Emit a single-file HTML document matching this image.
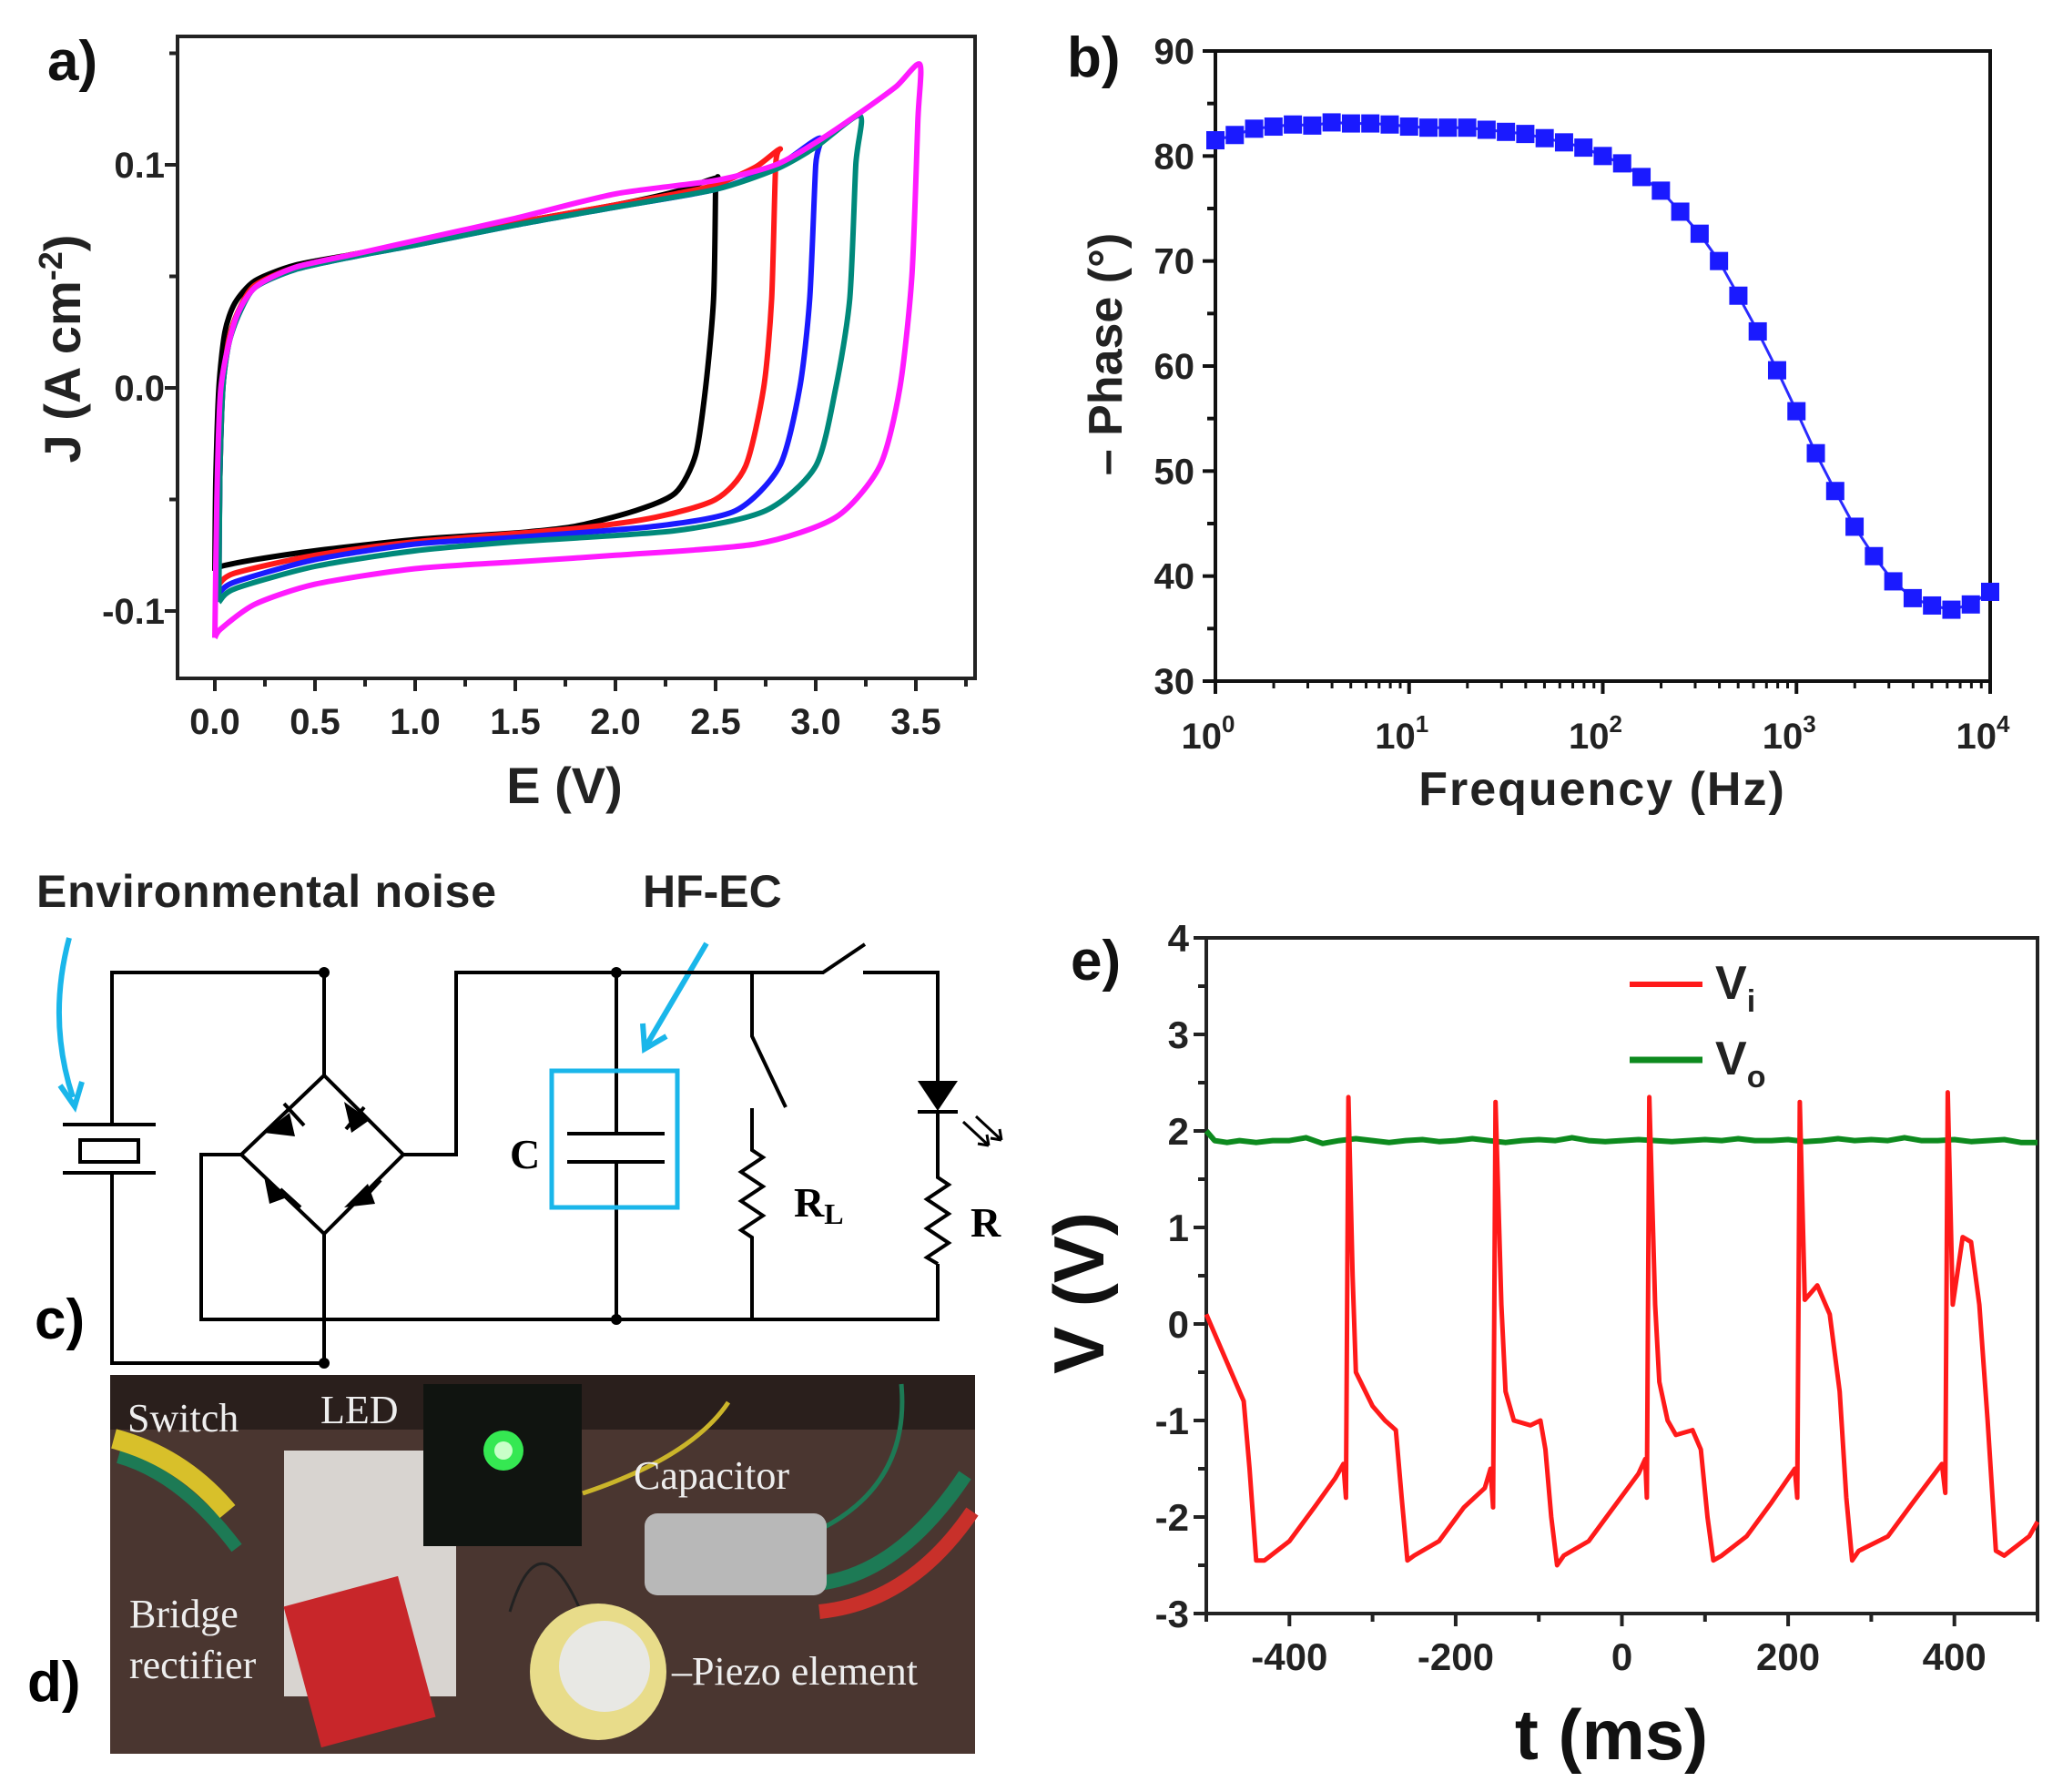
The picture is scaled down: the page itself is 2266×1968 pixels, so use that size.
<!DOCTYPE html>
<html><head><meta charset="utf-8"><style>
html,body{margin:0;padding:0;background:#fff;}
svg{display:block;font-family:"Liberation Sans",sans-serif;}
</style></head><body>
<svg id="fig" xmlns="http://www.w3.org/2000/svg" width="2266" height="1968" viewBox="0 0 2266 1968">
<rect x="0" y="0" width="2266" height="1968" fill="#fff"/>
<g id="pa"></g>
<g id="pb"></g>
<g id="pe"></g>

<g stroke="#000" stroke-width="4" fill="none">
  <text x="40" y="996" font-size="50" font-weight="bold" fill="#222" stroke="none" textLength="505">Environmental noise</text>
  <text x="706" y="996" font-size="50" font-weight="bold" fill="#222" stroke="none">HF-EC</text>
  <path d="M76 1030 Q52 1120 80 1205" stroke="#1ab6ea" stroke-width="6"/>
  <path d="M66 1192 L82 1215 L90 1188" stroke="#1ab6ea" stroke-width="6"/>
  <path d="M776 1036 L710 1148" stroke="#1ab6ea" stroke-width="6"/>
  <path d="M706 1124 L708 1152 L732 1138" stroke="#1ab6ea" stroke-width="6"/>
  <path d="M123 1235 L123 1068 L356 1068 L356 1181"/>
  <path d="M123 1288 L123 1497 L356 1497 L356 1355"/>
  <path d="M69 1235 L171 1235 M69 1288 L171 1288"/>
  <rect x="88" y="1252" width="64" height="24"/>
  <path d="M356 1181 L265 1268 L356 1355 L443 1268 Z"/>
  <g fill="#000" stroke="none">
    <polygon points="290,1244 318,1222 324,1248"/>
    <polygon points="378,1210 406,1230 386,1244"/>
    <polygon points="290,1292 318,1314 296,1322"/>
    <polygon points="378,1326 404,1300 412,1322"/>
  </g>
  <path d="M312 1212 L334 1236 M400 1216 L380 1240 M308 1306 L330 1326 M418 1296 L398 1318"/>
  <path d="M265 1268 L221 1268 L221 1449 L1030 1449 L1030 1388"/>
  <path d="M443 1268 L501 1268 L501 1068 L904 1068 L950 1037"/>
  <path d="M948 1068 L1030 1068 L1030 1187"/>
  <path d="M677 1068 L677 1245 M623 1245 L730 1245 M623 1276 L730 1276 M677 1276 L677 1449"/>
  <rect x="606" y="1176" width="138" height="150" stroke="#1ab6ea" stroke-width="5"/>
  <text x="560" y="1283" font-family="Liberation Serif,serif" font-size="46" font-weight="bold" fill="#000" stroke="none">C</text>
  <path d="M826 1068 L826 1138 L863 1216 M826 1217 L826 1263 L838 1271 L814 1287 L838 1303 L814 1319 L838 1335 L814 1351 L826 1359 L826 1449"/>
  <text x="872" y="1336" font-family="Liberation Serif,serif" font-size="46" font-weight="bold" fill="#000" stroke="none">R<tspan font-size="32" dy="8">L</tspan></text>
  <polygon points="1008,1187 1052,1187 1030,1220" fill="#000" stroke="none"/>
  <path d="M1008 1221 L1052 1221 M1030 1221 L1030 1293 L1042 1301 L1018 1317 L1042 1333 L1018 1349 L1042 1365 L1018 1381 L1030 1388"/>
  <path d="M1058 1232 L1086 1258 M1072 1226 L1100 1252 M1086 1258 l-12 -2 M1086 1258 l-2 -12 M1100 1252 l-12 -2 M1100 1252 l-2 -12" stroke-width="3"/>
  <text x="1066" y="1358" font-family="Liberation Serif,serif" font-size="46" font-weight="bold" fill="#000" stroke="none">R</text>
  <g fill="#000" stroke="none">
    <circle cx="356" cy="1068" r="6"/><circle cx="677" cy="1068" r="6"/><circle cx="677" cy="1449" r="6"/><circle cx="356" cy="1497" r="6"/>
  </g>
  <text x="38" y="1470" font-size="62" font-weight="bold" fill="#000" stroke="none">c)</text>
</g>

<g>
  <rect x="121" y="1510" width="950" height="416" fill="#4a3630"/>
  <rect x="121" y="1510" width="950" height="60" fill="#2a1f1c"/>
  <path d="M130 1600 Q200 1620 260 1700" stroke="#1d7a55" stroke-width="14" fill="none"/>
  <path d="M125 1580 Q200 1600 250 1660" stroke="#d8c02a" stroke-width="22" fill="none"/>
  <path d="M640 1640 Q760 1600 800 1540" stroke="#cbb52a" stroke-width="5" fill="none"/>
  <path d="M900 1680 Q1000 1630 990 1520" stroke="#1d7a55" stroke-width="5" fill="none"/>
  <path d="M880 1740 Q980 1740 1060 1620" stroke="#1d7a55" stroke-width="16" fill="none"/>
  <path d="M900 1770 Q1000 1760 1068 1660" stroke="#c8302a" stroke-width="16" fill="none"/>
  <path d="M560 1770 Q600 1640 660 1830" stroke="#222" stroke-width="3" fill="none"/>
  <rect x="312" y="1593" width="189" height="270" fill="#d8d4d0"/>
  <rect x="465" y="1520" width="174" height="178" fill="#101410"/>
  <circle cx="553" cy="1593" r="22" fill="#3aff5a" opacity="0.9"/>
  <circle cx="553" cy="1593" r="10" fill="#c8ffc8"/>
  <rect x="330" y="1745" width="130" height="160" fill="#c8262a" transform="rotate(-15 395 1825)"/>
  <rect x="708" y="1662" width="200" height="90" rx="14" fill="#b8b8b8"/>
  <circle cx="657" cy="1836" r="75" fill="#e8dc8a"/>
  <circle cx="664" cy="1830" r="50" fill="#e8e8e4"/>
  <g font-family="Liberation Serif,serif" font-size="44" fill="#eee">
    <text x="140" y="1572">Switch</text>
    <text x="352" y="1563">LED</text>
    <text x="696" y="1635">Capacitor</text>
    <text x="142" y="1787">Bridge</text>
    <text x="142" y="1843">rectifier</text>
    <text x="738" y="1850">–Piezo element</text>
  </g>
  <text x="30" y="1868" font-size="62" font-weight="bold" fill="#000">d)</text>
</g>
</svg>
<script>
// ---------- Panel a data ----------
const cvNames = ["2.5 V","2.8 V","3.0 V","3.2 V","3.5 V"];
const cvColors = ["#000000","#ff1a1a","#1a1aff","#00897b","#ff1aff"];
const cvE0 = [0,0.005,0.02,0.05,0.1,0.2,0.4,0.7,1.0,1.5,2.0,2.3,2.5,2.5,2.49,2.45,2.4,2.3,2.1,1.8,1.5,1.0,0.5,0.2,0.03,0];
const cvJ0 = [-0.082,-0.04,0.0,0.025,0.038,0.048,0.055,0.060,0.065,0.074,0.082,0.088,0.094,0.09,0.04,0.0,-0.03,-0.047,-0.055,-0.062,-0.065,-0.068,-0.073,-0.077,-0.080,-0.082];
const cvE1 = [0.02,0.025,0.04,0.07,0.12,0.2,0.4,0.7,1.0,1.5,2.0,2.3,2.5,2.7,2.82,2.8,2.78,2.74,2.65,2.5,2.2,1.8,1.0,0.5,0.1,0.02];
const cvJ1 = [-0.088,-0.04,0.0,0.022,0.035,0.046,0.054,0.060,0.065,0.074,0.082,0.087,0.091,0.099,0.107,0.10,0.04,0.0,-0.035,-0.05,-0.058,-0.063,-0.069,-0.075,-0.083,-0.088];
const cvE2 = [0.02,0.025,0.04,0.07,0.12,0.2,0.4,0.7,1.0,1.5,2.0,2.5,2.8,3.02,3.0,2.97,2.92,2.82,2.6,2.2,1.5,1.0,0.5,0.1,0.02];
const cvJ2 = [-0.092,-0.04,0.0,0.02,0.033,0.045,0.053,0.059,0.064,0.073,0.081,0.089,0.099,0.112,0.10,0.04,0.0,-0.035,-0.055,-0.062,-0.067,-0.070,-0.077,-0.087,-0.092];
const cvE3 = [0.02,0.025,0.04,0.07,0.12,0.2,0.4,0.7,1.0,1.5,2.0,2.5,2.8,3.0,3.22,3.2,3.17,3.1,3.0,2.75,2.3,1.5,1.0,0.5,0.1,0.02];
const cvJ3 = [-0.096,-0.04,0.0,0.02,0.033,0.045,0.053,0.059,0.064,0.073,0.081,0.089,0.098,0.108,0.122,0.10,0.04,0.0,-0.035,-0.055,-0.064,-0.069,-0.073,-0.080,-0.090,-0.096];
const cvE4 = [0,0.01,0.03,0.1,0.2,0.4,0.7,1.0,1.5,2.0,2.5,2.8,3.0,3.2,3.4,3.52,3.51,3.48,3.42,3.32,3.1,2.7,2.0,1.5,1.0,0.5,0.2,0.03,0];
const cvJ4 = [-0.112,-0.05,0.0,0.03,0.045,0.054,0.060,0.066,0.076,0.087,0.093,0.100,0.110,0.122,0.135,0.145,0.12,0.05,0.0,-0.035,-0.058,-0.070,-0.075,-0.078,-0.081,-0.088,-0.097,-0.108,-0.112];
const cvXTicks = [0,0.5,1.0,1.5,2.0,2.5,3.0,3.5];
const cvYTicks = [-0.1,0.0,0.1];

// ---------- Panel b data ----------
const phaseLogF = [0,0.1,0.2,0.3,0.4,0.5,0.6,0.7,0.8,0.9,1.0,1.1,1.2,1.3,1.4,1.5,1.6,1.7,1.8,1.9,2.0,2.1,2.2,2.3,2.4,2.5,2.6,2.7,2.8,2.9,3.0,3.1,3.2,3.3,3.4,3.5,3.6,3.7,3.8,3.9,4.0];
const phaseVals = [81.5,82,82.6,82.8,83.0,82.9,83.2,83.1,83.1,83.0,82.8,82.7,82.7,82.7,82.5,82.3,82.1,81.7,81.3,80.8,80.0,79.3,78.0,76.7,74.7,72.6,70.0,66.7,63.3,59.6,55.7,51.7,48.1,44.7,41.9,39.5,37.9,37.2,36.8,37.3,38.5];
const phaseYTicks = [30,40,50,60,70,80,90];
const phaseXDecades = [0,1,2,3,4];

// ---------- Panel e data ----------
const viT = [-500,-470,-455,-448,-440,-430,-400,-370,-345,-335,-332,-329,-324,-320,-300,-285,-272,-265,-258,-250,-220,-190,-165,-158,-155,-152,-145,-140,-130,-110,-98,-92,-85,-78,-70,-40,-10,20,28,30,33,40,45,55,65,85,95,103,110,120,150,180,208,211,214,220,235,250,262,270,277,285,320,350,385,389,392,398,410,420,430,440,450,460,490,500];
const viV = [0.1,-0.5,-0.8,-1.5,-2.45,-2.45,-2.25,-1.9,-1.6,-1.45,-1.8,2.35,0.5,-0.5,-0.85,-1.0,-1.1,-1.8,-2.45,-2.4,-2.25,-1.9,-1.7,-1.5,-1.9,2.3,0.2,-0.7,-1.0,-1.05,-1.0,-1.3,-2.0,-2.5,-2.4,-2.25,-1.9,-1.55,-1.4,-1.8,2.35,0.2,-0.6,-1.0,-1.15,-1.1,-1.3,-2.0,-2.45,-2.4,-2.2,-1.85,-1.5,-1.8,2.3,0.25,0.4,0.1,-0.7,-1.8,-2.45,-2.35,-2.2,-1.85,-1.45,-1.75,2.4,0.2,0.9,0.85,0.2,-1.0,-2.35,-2.4,-2.2,-2.05];
const voT = [-500,-490,-475,-460,-440,-420,-400,-380,-360,-340,-320,-300,-280,-260,-240,-220,-200,-180,-160,-140,-120,-100,-80,-60,-40,-20,0,20,40,60,80,100,120,140,160,180,200,220,240,260,280,300,320,340,360,380,400,420,440,460,480,500];
const voV = [2.0,1.9,1.88,1.9,1.88,1.9,1.9,1.93,1.87,1.9,1.92,1.9,1.88,1.9,1.91,1.89,1.9,1.92,1.9,1.88,1.9,1.91,1.9,1.93,1.9,1.89,1.9,1.91,1.9,1.89,1.9,1.91,1.9,1.92,1.9,1.9,1.91,1.89,1.9,1.92,1.9,1.91,1.9,1.93,1.9,1.9,1.91,1.89,1.9,1.91,1.88,1.88];
const eYTicks = [-3,-2,-1,0,1,2,3,4];
const eXTicks = [-400,-200,0,200,400];

const NS = "http://www.w3.org/2000/svg";
function mk(parent, tag, attrs, text){
  const el = document.createElementNS(NS, tag);
  for (const k in attrs) el.setAttribute(k, attrs[k]);
  if (text !== undefined) el.textContent = text;
  parent.appendChild(el);
  return el;
}
function pathFrom(xs, ys, fx, fy){
  let d = "";
  for (let i=0;i<xs.length;i++) d += (i?"L":"M") + fx(xs[i]).toFixed(1) + " " + fy(ys[i]).toFixed(1);
  return d;
}
function smoothFrom(xs, ys, fx, fy){
  const P = xs.map((x,i)=>[fx(x), fy(ys[i])]);
  let d = "M"+P[0][0].toFixed(1)+" "+P[0][1].toFixed(1);
  const k = 1/8;
  for (let i=0;i<P.length-1;i++){
    const p0=P[Math.max(0,i-1)], p1=P[i], p2=P[i+1], p3=P[Math.min(P.length-1,i+2)];
    const c1=[p1[0]+(p2[0]-p0[0])*k, p1[1]+(p2[1]-p0[1])*k];
    const c2=[p2[0]-(p3[0]-p1[0])*k, p2[1]-(p3[1]-p1[1])*k];
    d += "C"+c1[0].toFixed(1)+" "+c1[1].toFixed(1)+" "+c2[0].toFixed(1)+" "+c2[1].toFixed(1)+" "+p2[0].toFixed(1)+" "+p2[1].toFixed(1);
  }
  return d;
}
function tspanText(t, main, sub, dy, fs){
  t.appendChild(document.createTextNode(main));
  const s = document.createElementNS(NS,"tspan");
  s.setAttribute("dy", dy); s.setAttribute("font-size", fs);
  s.textContent = sub;
  t.appendChild(s);
  return s;
}

// ===== Panel a =====
(function(){
  const g = document.getElementById("pa");
  const L=195,R=1071,T=40,B=745;
  const xA = e => 236 + e*220;
  const yA = j => 426 - j*2450;
  const box = mk(g,"rect",{x:L,y:T,width:R-L,height:B-T,fill:"none",stroke:"#222","stroke-width":4});
  
  
  for (let k=-3; k<=3; k++){
    const y=yA(k*0.05); if (y<T||y>B) continue;
    mk(g,"line",{x1:L,x2:L-(k%2===0?14:9),y1:y,y2:y,stroke:"#222","stroke-width":4});
  }
  cvYTicks.forEach(v=>{
    const t = mk(g,"text",{x:L-14,y:yA(v)+14,"text-anchor":"end","font-size":40,"font-weight":"bold",fill:"#222"}, v.toFixed(1));
    
    
  });
  for (let k=0; k<=15; k++){
    const x=xA(k*0.25);
    mk(g,"line",{x1:x,x2:x,y1:B,y2:B+(k%2===0?14:9),stroke:"#222","stroke-width":4});
  }
  cvXTicks.forEach(v=>{
    const t = mk(g,"text",{x:xA(v),y:806,"text-anchor":"middle","font-size":40,"font-weight":"bold",fill:"#222"}, v.toFixed(1));
    
    
  });
  const xt = mk(g,"text",{x:620,y:882,"text-anchor":"middle","font-size":56,"font-weight":"bold",fill:"#222"},"E (V)");
  
  
  const yt = mk(g,"text",{x:0,y:0,transform:"translate(88 383) rotate(-90)","text-anchor":"middle","font-size":56,"font-weight":"bold",fill:"#222"});
  
  
  tspanText(yt,"J (A cm","-2","-20","36");
  const cl = document.createElementNS(NS,"tspan"); cl.setAttribute("dy","20"); cl.textContent=")"; yt.appendChild(cl);
  const lbl = mk(g,"text",{x:52,y:88,"font-size":62,"font-weight":"bold",fill:"#111"},"a)");
  
  
  const Es=[cvE0,cvE1,cvE2,cvE3,cvE4], Js=[cvJ0,cvJ1,cvJ2,cvJ3,cvJ4];
  for (let i=0;i<Es.length;i++){
    const p = mk(g,"path",{d:smoothFrom(Es[i],Js[i],xA,yA),fill:"none",stroke:cvColors[i],"stroke-width":6,"stroke-linejoin":"round"});
    
    
  }
})();

// ===== Panel b =====
(function(){
  const g = document.getElementById("pb");
  const L=1335,R=2186,T=56,B=748;
  const xB = lf => L + lf*(R-L)/4;
  const yB = v => B - (v-30)*(B-T)/60;
  const box = mk(g,"rect",{x:L,y:T,width:R-L,height:B-T,fill:"none",stroke:"#111","stroke-width":4});
  
  
  for (let v=30; v<=90; v+=5){
    mk(g,"line",{x1:L,x2:L-(v%10===0?14:9),y1:yB(v),y2:yB(v),stroke:"#111","stroke-width":4});
  }
  phaseYTicks.forEach(v=>{
    const t = mk(g,"text",{x:1312,y:yB(v)+14,"text-anchor":"end","font-size":40,"font-weight":"bold",fill:"#222"},String(v));
    
    
  });
  phaseXDecades.forEach(d=>{
    mk(g,"line",{x1:xB(d),x2:xB(d),y1:B,y2:B+14,stroke:"#111","stroke-width":4});
    if (d<4) for (let k=2;k<=9;k++){ const x=xB(d+Math.log10(k)); mk(g,"line",{x1:x,x2:x,y1:B,y2:B+8,stroke:"#111","stroke-width":3}); }
    const t = mk(g,"text",{x:xB(d)-8,y:822,"text-anchor":"middle","font-size":40,"font-weight":"bold",fill:"#222"});
    
    
    tspanText(t,"10",String(d),"-18","26");
  });
  const xt = mk(g,"text",{x:1760,y:884,"text-anchor":"middle","font-size":52,"font-weight":"bold",fill:"#222","letter-spacing":"2"},"Frequency (Hz)");
  
  
  const yt = mk(g,"text",{x:0,y:0,transform:"translate(1232 389) rotate(-90)","text-anchor":"middle","font-size":52,"font-weight":"bold",fill:"#222"},"– Phase (°)");
  
  
  const lbl = mk(g,"text",{x:1172,y:84,"font-size":62,"font-weight":"bold",fill:"#111"},"b)");
  
  
  const ln = mk(g,"path",{d:pathFrom(phaseLogF,phaseVals,xB,yB),fill:"none",stroke:"#2a2aff","stroke-width":3});
  
  
  for (let i=0;i<phaseLogF.length;i++){
    const s = mk(g,"rect",{x:xB(phaseLogF[i])-10,y:yB(phaseVals[i])-10,width:20,height:20,fill:"#1a1aff"});
    
    
  }
})();

// ===== Panel e =====
(function(){
  const g = document.getElementById("pe");
  const L=1325,R=2238,T=1030,B=1772;
  const xE = t => L + (t+500)*(R-L)/1000;
  const yE = v => B - (v+3)*(B-T)/7;
  const box = mk(g,"rect",{x:L,y:T,width:R-L,height:B-T,fill:"none",stroke:"#222","stroke-width":4});
  
  
  for (let k=-6; k<=8; k++){
    mk(g,"line",{x1:L,x2:L-(k%2===0?14:9),y1:yE(k/2),y2:yE(k/2),stroke:"#222","stroke-width":4});
  }
  eYTicks.forEach(v=>{
    const t = mk(g,"text",{x:1306,y:yE(v)+15,"text-anchor":"end","font-size":42,"font-weight":"bold",fill:"#222"},String(v));
    
    
  });
  for (let t=-500;t<=500;t+=100){
    mk(g,"line",{x1:xE(t),x2:xE(t),y1:B,y2:B+(t%200===0?14:9),stroke:"#222","stroke-width":4});
  }
  eXTicks.forEach(v=>{
    const t = mk(g,"text",{x:xE(v),y:1834,"text-anchor":"middle","font-size":42,"font-weight":"bold",fill:"#222"},String(v));
    
    
  });
  const xt = mk(g,"text",{x:1770,y:1932,"text-anchor":"middle","font-size":78,"font-weight":"bold",fill:"#111"},"t (ms)");
  
  
  const yt = mk(g,"text",{x:0,y:0,transform:"translate(1212 1420) rotate(-90)","text-anchor":"middle","font-size":78,"font-weight":"bold",fill:"#111"},"V (V)");
  
  
  const lbl = mk(g,"text",{x:1176,y:1076,"font-size":62,"font-weight":"bold",fill:"#111"},"e)");
  
  
  const vo = mk(g,"path",{d:pathFrom(voT,voV,xE,yE),fill:"none",stroke:"#0d8a1e","stroke-width":6,"stroke-linejoin":"round"});
  
  
  const vi = mk(g,"path",{d:pathFrom(viT,viV,xE,yE),fill:"none",stroke:"#ff1a1a","stroke-width":5,"stroke-linejoin":"round"});
  
  
  const l1 = mk(g,"line",{x1:1790,x2:1870,y1:1081,y2:1081,stroke:"#ff1a1a","stroke-width":6});
  
  
  const t1 = mk(g,"text",{x:1884,y:1097,"font-size":52,"font-weight":"bold",fill:"#222"});
  
  
  tspanText(t1,"V","i","14","34");
  const l2 = mk(g,"line",{x1:1790,x2:1870,y1:1164,y2:1164,stroke:"#0d8a1e","stroke-width":7});
  
  
  const t2 = mk(g,"text",{x:1884,y:1180,"font-size":52,"font-weight":"bold",fill:"#222"});
  
  
  tspanText(t2,"V","o","14","34");
})();
</script>
</body></html>
